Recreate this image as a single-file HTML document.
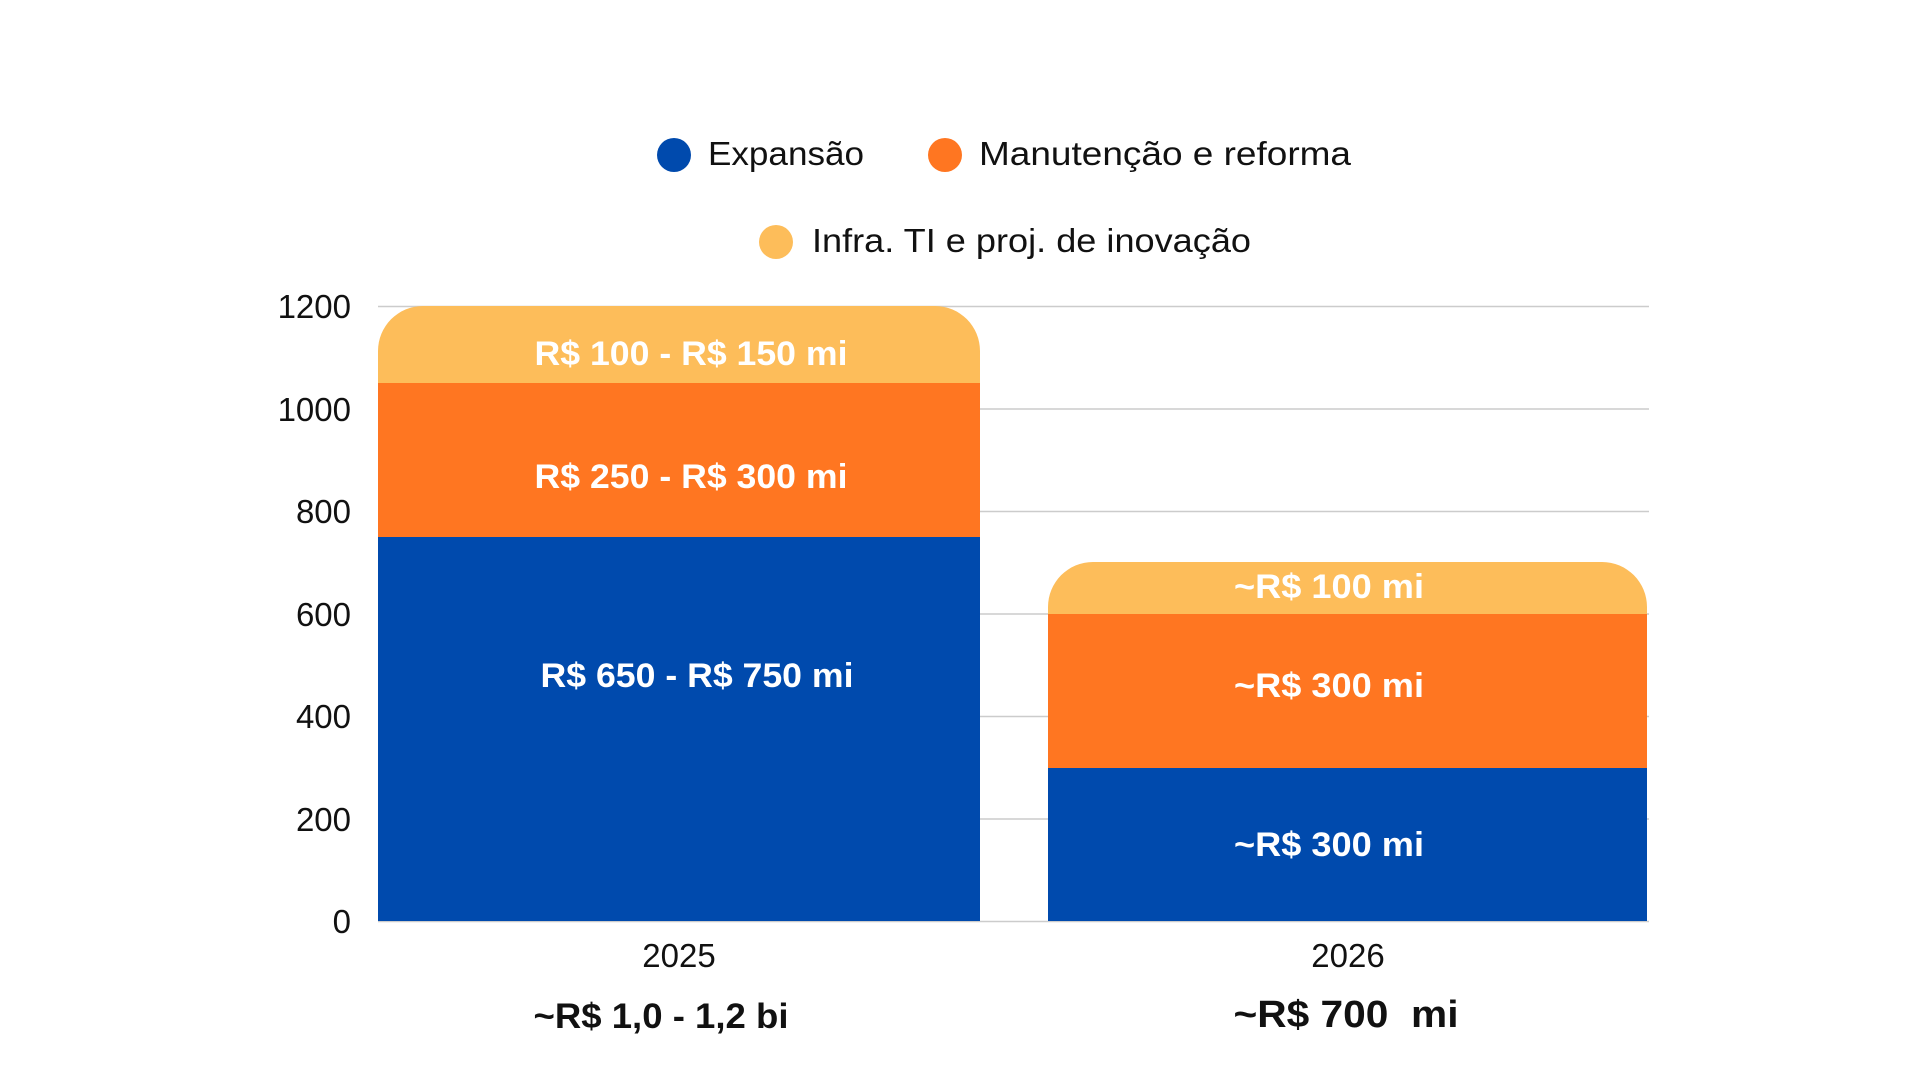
<!DOCTYPE html>
<html><head><meta charset="utf-8"><style>
html,body{margin:0;padding:0;background:#fff;}
svg{display:block;}
text{font-family:"Liberation Sans",sans-serif;}
</style></head><body>
<svg width="1920" height="1080" viewBox="0 0 1920 1080" xmlns="http://www.w3.org/2000/svg">
<g stroke="#cccccc" stroke-width="1.5">
<line x1="378" y1="306.5" x2="1649" y2="306.5"/>
<line x1="378" y1="409" x2="1649" y2="409"/>
<line x1="378" y1="511.5" x2="1649" y2="511.5"/>
<line x1="378" y1="614" x2="1649" y2="614"/>
<line x1="378" y1="716.5" x2="1649" y2="716.5"/>
<line x1="378" y1="819" x2="1649" y2="819"/>
<line x1="378" y1="921.5" x2="1649" y2="921.5"/>
</g>
<g font-size="33" fill="#111" text-anchor="end">
<text x="351" y="318">1200</text>
<text x="351" y="421">1000</text>
<text x="351" y="523">800</text>
<text x="351" y="626">600</text>
<text x="351" y="728">400</text>
<text x="351" y="831">200</text>
<text x="351" y="933">0</text>
</g>
<path d="M378,383 L378,351 A45,45 0 0 1 423,306 L935,306 A45,45 0 0 1 980,351 L980,383 Z" fill="#FDBD5A"/>
<rect x="378" y="383" width="602" height="154" fill="#FF7621"/>
<rect x="378" y="537" width="602" height="384" fill="#004AAD"/>
<path d="M1048,614 L1048,607 A45,45 0 0 1 1093,562 L1602,562 A45,45 0 0 1 1647,607 L1647,614 Z" fill="#FDBD5A"/>
<rect x="1048" y="614" width="599" height="154" fill="#FF7621"/>
<rect x="1048" y="768" width="599" height="153" fill="#004AAD"/>
<g font-size="34" font-weight="bold" fill="#fff" text-anchor="middle">
<text x="691" y="365" textLength="313" lengthAdjust="spacingAndGlyphs">R$ 100 - R$ 150 mi</text>
<text x="691" y="488" textLength="313" lengthAdjust="spacingAndGlyphs">R$ 250 - R$ 300 mi</text>
<text x="697" y="687" textLength="313" lengthAdjust="spacingAndGlyphs">R$ 650 - R$ 750 mi</text>
<text x="1329" y="598" textLength="190" lengthAdjust="spacingAndGlyphs">~R$ 100 mi</text>
<text x="1329" y="697" textLength="190" lengthAdjust="spacingAndGlyphs">~R$ 300 mi</text>
<text x="1329" y="856" textLength="190" lengthAdjust="spacingAndGlyphs">~R$ 300 mi</text>
</g>
<g font-size="33" fill="#111" text-anchor="middle">
<text x="679" y="967">2025</text>
<text x="1348" y="967">2026</text>
</g>
<g font-size="35" font-weight="bold" fill="#111" text-anchor="middle">
<text x="661" y="1028" textLength="255" lengthAdjust="spacingAndGlyphs">~R$ 1,0 - 1,2 bi</text>
<text x="1346" y="1027" font-size="38" textLength="225" lengthAdjust="spacingAndGlyphs">~R$ 700&#160; mi</text>
</g>
<circle cx="674" cy="155" r="17" fill="#004AAD"/>
<circle cx="945" cy="155" r="17" fill="#FF7621"/>
<circle cx="776" cy="242" r="17" fill="#FDBD5A"/>
<g font-size="33" fill="#111">
<text x="708" y="165" textLength="156" lengthAdjust="spacingAndGlyphs">Expansão</text>
<text x="979" y="165" textLength="372" lengthAdjust="spacingAndGlyphs">Manutenção e reforma</text>
<text x="812" y="252" textLength="439" lengthAdjust="spacingAndGlyphs">Infra. TI e proj. de inovação</text>
</g>
</svg>
</body></html>
